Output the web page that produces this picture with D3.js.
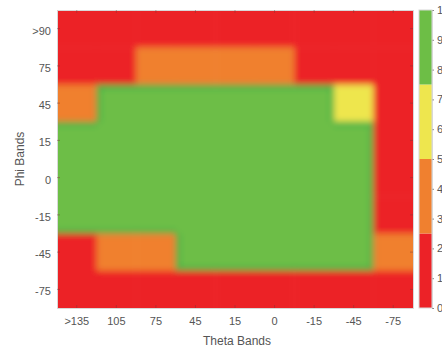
<!DOCTYPE html>
<html>
<head>
<meta charset="utf-8">
<script src="https://cdn.jsdelivr.net/npm/d3@7"></script>
<style>
  html, body { margin: 0; padding: 0; background: #fff; }
  svg { display: block; }
  text { font-family: "Liberation Sans", Arial, sans-serif; }
</style>
</head>
<body>
<svg id="chart" width="442" height="349"></svg>
<script>
// Column (theta) and row (phi) band labels
const thetaBands = [">135", "105", "75", "45", "15", "0", "-15", "-45", "-75"];
const phiBands = [">90", "75", "45", "15", "0", "-15", "-45", "-75"];

// Score per band, one row per phi band (top to bottom), one column per theta band
const rowGt90  = [1, 1, 1, 1, 1, 1, 1, 1, 1];
const row75    = [1, 1, 4, 4, 4, 4, 1, 1, 1];
const row45    = [4, 9, 9, 9, 9, 9, 9, 6, 1];
const row15    = [9, 9, 9, 9, 9, 9, 9, 9, 1];
const row0     = [9, 9, 9, 9, 9, 9, 9, 9, 1];
const rowM15   = [9, 9, 9, 9, 9, 9, 9, 9, 1];
const rowM45   = [1, 4, 4, 9, 9, 9, 9, 9, 4];
const rowM75   = [1, 1, 1, 1, 1, 1, 1, 1, 1];
const scoreRows = [rowGt90, row75, row45, row15, row0, rowM15, rowM45, rowM75];

// Colour bar
const colorTicks = [0, 1, 2, 3, 4, 5, 6, 7, 8, 9, 10];
const colorBreaks = [2.5, 5, 7.5];
const colorSwatches = ["#ec2227", "#f0802f", "#eee64e", "#6dbe46"];
const rimGreen = "#2fb04a";

const svg = d3.select("#chart");
const margin = { left: 57, top: 10, right: 413, bottom: 308 };

const x = d3.scaleBand().domain(thetaBands).range([margin.left, margin.right]);
const y = d3.scaleBand().domain(phiBands).range([margin.top, margin.bottom]);
const color = d3.scaleThreshold().domain(colorBreaks).range(colorSwatches);
const isTop = v => v >= colorBreaks[2];

const nC = thetaBands.length, nR = phiBands.length;
const cells = [];
scoreRows.forEach((row, r) => {
  row.forEach((v, c) => cells.push({ phi: phiBands[r], theta: thetaBands[c], r, c, v }));
});

const defs = svg.append("defs");
defs.append("clipPath").attr("id", "plotClip")
  .append("rect")
  .attr("x", margin.left).attr("y", margin.top)
  .attr("width", margin.right - margin.left)
  .attr("height", margin.bottom - margin.top);
defs.append("filter").attr("id", "soft")
  .attr("x", "-5%").attr("y", "-5%").attr("width", "110%").attr("height", "110%")
  .append("feGaussianBlur").attr("stdDeviation", 3.4);

// Heat cells: the outer ring is stretched past the frame so the soft edges stay solid
const pad = 14;
const cellBox = d => ({
  x0: x(d.theta) - (d.c === 0 ? pad : 0),
  y0: y(d.phi) - (d.r === 0 ? pad : 0),
  x1: x(d.theta) + x.bandwidth() + (d.c === nC - 1 ? pad : 0.5),
  y1: y(d.phi) + y.bandwidth() + (d.r === nR - 1 ? pad : 0.5)
});
const heat = svg.append("g").attr("clip-path", "url(#plotClip)")
  .append("g").attr("filter", "url(#soft)");
heat.selectAll("rect.cell").data(cells).join("rect")
  .attr("class", "cell")
  .each(function (d) {
    const b = cellBox(d);
    d3.select(this).attr("x", b.x0).attr("y", b.y0)
      .attr("width", b.x1 - b.x0).attr("height", b.y1 - b.y0);
  })
  .attr("fill", d => isTop(d.v) ? rimGreen : color(d.v));

// Top-band cells get a darker rim wherever they border a lower band
const rim = 4;
const lowerAt = (r, c) => r >= 0 && r < nR && c >= 0 && c < nC && !isTop(scoreRows[r][c]);
heat.selectAll("rect.core").data(cells.filter(d => isTop(d.v))).join("rect")
  .attr("class", "core")
  .each(function (d) {
    const b = cellBox(d);
    const x0 = b.x0 + (lowerAt(d.r, d.c - 1) ? rim : 0);
    const x1 = b.x1 - (lowerAt(d.r, d.c + 1) ? rim : 0);
    const y0 = b.y0 + (lowerAt(d.r - 1, d.c) ? rim : 0);
    const y1 = b.y1 - (lowerAt(d.r + 1, d.c) ? rim : 0);
    d3.select(this).attr("x", x0).attr("y", y0)
      .attr("width", x1 - x0).attr("height", y1 - y0);
  })
  .attr("fill", d => color(d.v));

// Axes with small inward ticks
const tickColor = "#7a3a3a";
const xAxis = d3.axisBottom(x).tickSize(-3).tickPadding(9);
const gx = svg.append("g").attr("transform", `translate(0,${margin.bottom})`).call(xAxis);
const gxTop = svg.append("g").attr("transform", `translate(0,${margin.top})`)
  .call(d3.axisTop(x).tickSize(-3).tickFormat(""));
const yAxis = d3.axisLeft(y).tickSize(-3).tickPadding(6);
const gy = svg.append("g").attr("transform", `translate(${margin.left},0)`).call(yAxis);
const gyRight = svg.append("g").attr("transform", `translate(${margin.right},0)`)
  .call(d3.axisRight(y).tickSize(-3).tickFormat(""));

[gx, gxTop, gy, gyRight].forEach(g => {
  g.select(".domain").attr("stroke", "#d8d8d8").attr("stroke-width", 1);
  g.selectAll(".tick line").attr("stroke", tickColor).attr("stroke-opacity", 0.45);
  g.selectAll(".tick text").attr("fill", "#555").attr("font-size", 11);
});
gy.selectAll(".tick text").attr("dy", "0.55em");

svg.append("text")
  .attr("x", (margin.left + margin.right) / 2 + 2).attr("y", 345)
  .attr("text-anchor", "middle").attr("fill", "#555").attr("font-size", 12)
  .text("Theta Bands");
svg.append("text")
  .attr("transform", `translate(24,${(margin.top + margin.bottom) / 2}) rotate(-90)`)
  .attr("text-anchor", "middle").attr("fill", "#555").attr("font-size", 12)
  .text("Phi Bands");

// Colour bar
const cb = { x: 419, w: 13 };
const cy = d3.scaleLinear().domain([0, 10]).range([margin.bottom, margin.top]);
const bands = [0, ...colorBreaks, 10];
svg.append("g").selectAll("rect").data(colorSwatches).join("rect")
  .attr("x", cb.x)
  .attr("y", (d, i) => cy(bands[i + 1]))
  .attr("width", cb.w)
  .attr("height", (d, i) => cy(bands[i]) - cy(bands[i + 1]))
  .attr("fill", d => d);
const gc = svg.append("g").attr("transform", `translate(${cb.x + cb.w},0)`)
  .call(d3.axisRight(cy).tickValues(colorTicks).tickSize(2).tickPadding(3).tickFormat(d3.format("d")));
gc.select(".domain").attr("stroke", "#d8d8d8");
gc.selectAll(".tick line").attr("stroke", "#888");
gc.selectAll(".tick text").attr("fill", "#555").attr("font-size", 11);
svg.append("rect").attr("x", cb.x).attr("y", margin.top).attr("width", cb.w)
  .attr("height", margin.bottom - margin.top).attr("fill", "none").attr("stroke", "#d8d8d8");
</script>
</body>
</html>
